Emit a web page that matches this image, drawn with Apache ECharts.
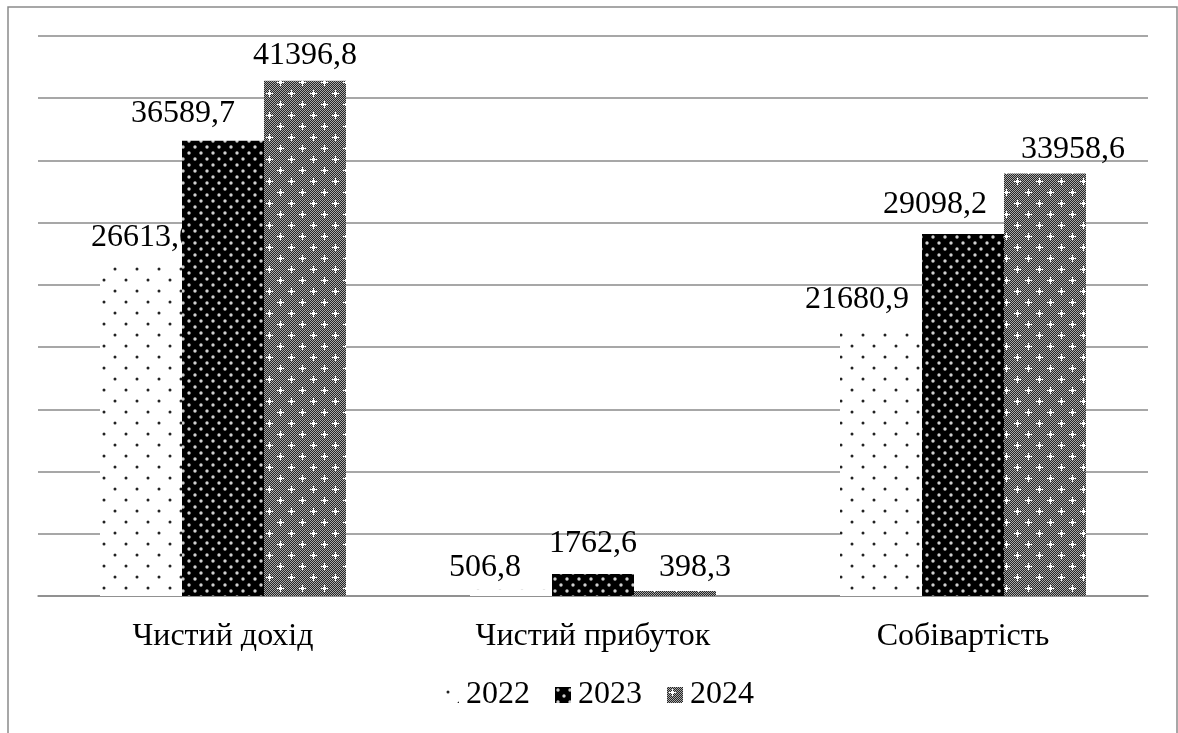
<!DOCTYPE html>
<html>
<head>
<meta charset="utf-8">
<script src="https://cdn.jsdelivr.net/npm/echarts@6/dist/echarts.min.js"></script>
<style>
  html, body { margin: 0; padding: 0; background: #fff; }
  #chart { width: 1178px; height: 733px; }
</style>
</head>
<body>
<div id="chart"></div>
<script>
const categories = ['Чистий дохід', 'Чистий прибуток', 'Собівартість']
const years = ['2022', '2023', '2024']
const values2022 = [26613.0, 506.8, 21680.9]
const values2023 = [36589.7, 1762.6, 29098.2]
const values2024 = [41396.8, 398.3, 33958.6]

const font = 'Liberation Serif, Times New Roman, serif'

// label nudges (px) to sit the numbers where the original placed them
const labelShift = {
  '2022': [[2, 0], [-26, 5], [-24, 0]],
  '2023': [[-40, 0], [0, -3], [-28, -2]],
  '2024': [[0, 2], [20, 4], [28, 3]]
}

function makeTile(w, h, draw) {
  const c = document.createElement('canvas')
  c.width = w
  c.height = h
  draw(c.getContext('2d'), w, h)
  return c
}

function dot(ctx, x, y, r, color) {
  ctx.fillStyle = color
  ctx.beginPath()
  ctx.arc(x, y, r, 0, Math.PI * 2)
  ctx.fill()
}

// sparse dark dots on white
const tile2022 = makeTile(22, 22, (ctx, w, h) => {
  ctx.fillStyle = '#fff'
  ctx.fillRect(0, 0, w, h)
  dot(ctx, 5, 5, 1.5, '#222')
  dot(ctx, 16, 16, 1.5, '#222')
})

// light dots on black
const tile2023 = makeTile(12, 12, (ctx, w, h) => {
  ctx.fillStyle = '#000'
  ctx.fillRect(0, 0, w, h)
  dot(ctx, 3, 3, 1.7, '#d0d0d0')
  dot(ctx, 9, 9, 1.7, '#d0d0d0')
})

// fine checker with white crosses
const tile2024 = makeTile(22, 22, (ctx, w, h) => {
  for (let y = 0; y < h; y++) {
    for (let x = 0; x < w; x++) {
      ctx.fillStyle = (x + y) % 2 ? '#262626' : '#a8a8a8'
      ctx.fillRect(x, y, 1, 1)
    }
  }
  ctx.fillStyle = '#fff'
  ;[[5, 5], [16, 16]].forEach(([cx, cy]) => {
    ctx.fillRect(cx - 3, cy, 7, 1)
    ctx.fillRect(cx, cy - 3, 1, 7)
    ctx.fillRect(cx - 1, cy - 1, 3, 3)
  })
})

const tiles = { '2022': tile2022, '2023': tile2023, '2024': tile2024 }
const seriesValues = { '2022': values2022, '2023': values2023, '2024': values2024 }

function buildSeries(year, idx) {
  return {
    name: year,
    type: 'bar',
    // later series sit on higher layers so their bars hide earlier labels
    zlevel: idx,
    barWidth: 82,
    barGap: '0%',
    itemStyle: { color: { image: tiles[year], repeat: 'repeat' } },
    label: {
      show: true,
      position: 'top',
      distance: 11,
      color: '#000',
      fontFamily: font,
      fontSize: 32,
      formatter: p => p.value.toFixed(1).replace('.', ',')
    },
    data: seriesValues[year].map((v, i) => ({
      value: v,
      label: { offset: labelShift[year][i] }
    }))
  }
}

const chart = echarts.init(document.getElementById('chart'))
chart.setOption({
  animation: false,
  backgroundColor: '#fff',
  graphic: [{
    type: 'rect',
    shape: { x: 8, y: 7, width: 1169, height: 760 },
    style: { fill: 'none', stroke: '#8a8a8a', lineWidth: 1.5 },
    silent: true
  }],
  grid: { left: 38, right: 30, top: 36, bottom: 137 },
  legend: {
    bottom: 17,
    left: 438,
    icon: 'rect',
    itemWidth: 16,
    itemHeight: 16,
    itemGap: 25,
    textStyle: { fontFamily: font, fontSize: 32, color: '#000', padding: [0, 0, 0, 2] },
    data: years
  },
  xAxis: {
    type: 'category',
    data: categories,
    axisLine: { lineStyle: { color: '#8a8a8a', width: 1.5 } },
    axisTick: { length: 8, lineStyle: { color: '#8a8a8a', width: 1.5 } },
    axisLabel: { margin: 25, color: '#000', fontFamily: font, fontSize: 32 }
  },
  yAxis: {
    type: 'value',
    min: 0,
    max: 45000,
    interval: 5000,
    axisLabel: { show: false },
    axisLine: { show: false },
    axisTick: { show: false },
    splitLine: { lineStyle: { color: '#8a8a8a', width: 1.5 } }
  },
  series: years.map(buildSeries)
})
</script>
</body>
</html>
